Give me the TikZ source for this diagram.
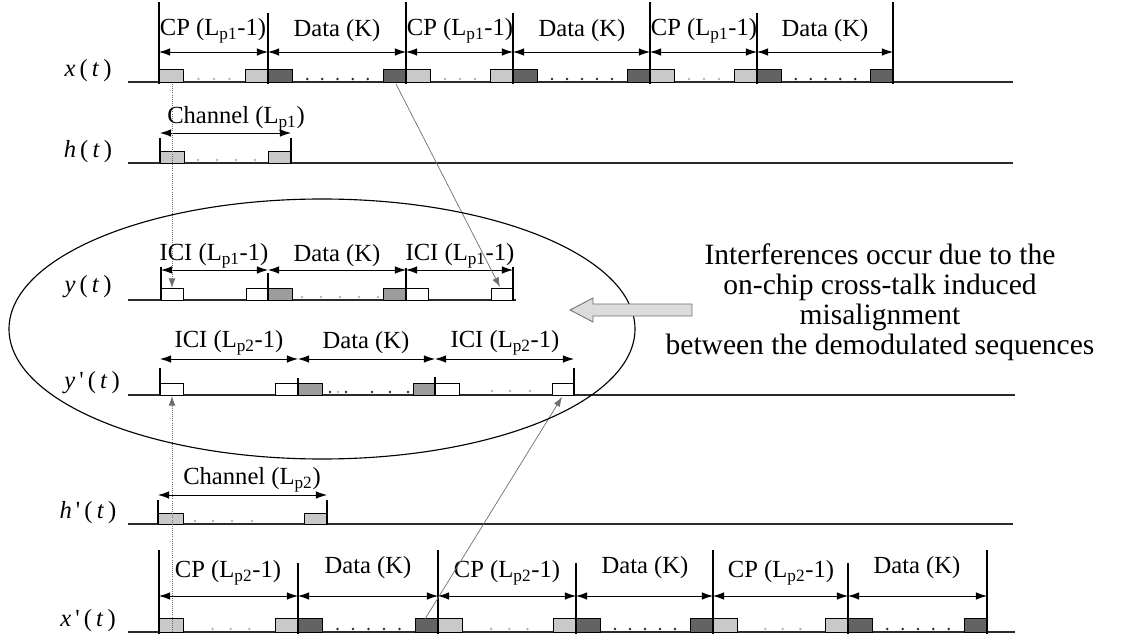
\documentclass[tikz,border=0pt]{standalone}
\usepackage{fontspec}
\setmainfont{Liberation Serif}
\usetikzlibrary{arrows.meta,positioning}
\definecolor{cpgray}{HTML}{C9C9C9}
\definecolor{datagray}{HTML}{636363}
\definecolor{ygray}{HTML}{9C9C9C}
\definecolor{dotgray}{HTML}{B4B4B4}
\definecolor{inkgray}{HTML}{2A2A2A}
\definecolor{linkgray}{HTML}{6E6E6E}
\definecolor{arrowfill}{HTML}{DCDCDC}
\newcommand{\Lp}[1]{L\textsubscript{p#1}}
\newcommand{\sig}[2]{\textit{#1}\,(\,\textit{#2}\,)}
\newcommand{\psig}[2]{\textit{#1}\,\textquotesingle\,(\,\textit{#2}\,)}

\begin{document}
\begin{tikzpicture}[x=0.25mm,y=-0.25mm,
  every node/.style={font=\fontsize{17.5}{19}\selectfont,inner sep=1pt},
  axis/.style={line width=0.9pt,inkgray},
  tick/.style={line width=0.9pt,black},
  span/.style={{Latex[length=2.8mm,width=1.9mm]}-{Latex[length=2.8mm,width=1.9mm]},line width=0.6pt},
  cpbox/.style={draw,line width=0.6pt,fill=cpgray},
  databox/.style={draw,line width=0.6pt,fill=datagray},
  ybox/.style={draw,line width=0.6pt,fill=ygray},
  openbox/.style={draw,line width=0.6pt,fill=white},
  link/.style={-{Latex[length=2.4mm,width=1.7mm]},line width=0.5pt,linkgray},
  dotlink/.style={link,densely dotted}
]
\useasboundingbox (0,0) rectangle (1125,641);

% x(t)
\node (xlab) at (88,71) {\sig{x}{t}};
\draw[axis] (128,82) -- (1013,82);
\foreach \s/\e in {159/268,406/513,650/757}{
  \draw[cpbox] (\s,69) rectangle ({\s+24},82);
  \draw[cpbox] ({\e-23},69) rectangle (\e,82);
  \foreach \k in {1,2,3} \fill[dotgray] ({\s+24+\k*(\e-\s-47)/4},79) circle (1.4);
}
\foreach \s/\e in {268/406,513/650,757/893}{
  \draw[databox] (\s,69) rectangle ({\s+24},82);
  \draw[databox] ({\e-23},69) rectangle (\e,82);
  \foreach \k in {1,...,5} \fill[inkgray] ({\s+24+\k*(\e-\s-47)/6},79) circle (1.4);
}
\foreach \b in {159,406,650,893} \draw[tick] (\b,2) -- (\b,84);
\foreach \b in {268,513,757} \draw[tick] (\b,13) -- (\b,84);
\foreach \s/\e in {159/268,268/406,406/513,513/650,650/757,757/893}
  \draw[span] (\s,52) -- (\e,52);
\node (xcp1) at (213,31) {CP (\Lp{1}-1)};
\node (xd1) at (337,31) {Data (K)};
\node (xcp2) at (460,31) {CP (\Lp{1}-1)};
\node (xd2) at (582,31) {Data (K)};
\node (xcp3) at (704,31) {CP (\Lp{1}-1)};
\node (xd3) at (825,31) {Data (K)};

% h(t)
\node (hlab) at (88,152) {\sig{h}{t}};
\draw[axis] (128,163) -- (1013,163);
\draw[cpbox] (160,151) rectangle (184,163);
\draw[cpbox] (268,151) rectangle (291,163);
\foreach \x in {198,217,236,255} \fill[dotgray] (\x,160) circle (1.4);
\draw[tick] (160,138) -- (160,163);
\draw[tick] (291,138) -- (291,163);
\draw[span] (160,133) -- (291,133);
\node (hch) at (236,119) {Channel (\Lp{1})};

% y(t)
\node (ylab) at (88,287) {\sig{y}{t}};
\draw[axis] (128,300) -- (516,300);
\draw[openbox] (161,288) rectangle (183,300);
\draw[openbox] (246,288) rectangle (268,300);
\draw[ybox] (268,288) rectangle (292,300);
\foreach \x in {302,321,340,359,378} \fill[dotgray] (\x,297) circle (1.4);
\draw[ybox] (383,288) rectangle (406,300);
\draw[openbox] (406,288) rectangle (428,300);
\draw[openbox] (491,288) rectangle (513,300);
\draw[tick] (161,267) -- (161,300);
\draw[tick] (268,273) -- (268,300);
\draw[tick] (406,268) -- (406,300);
\draw[tick] (513,267) -- (513,300);
\draw[span] (161,270) -- (268,270);
\draw[span] (268,270) -- (406,270);
\draw[span] (406,270) -- (513,270);
\node (yici1) at (214,256) {ICI (\Lp{1}-1)};
\node (yd) at (337,256) {Data (K)};
\node (yici2) at (460,256) {ICI (\Lp{1}-1)};

% y'(t)
\node (yplab) at (92,383) {\psig{y}{t}};
\draw[axis] (128,395) -- (1015,395);
\draw[openbox] (160,383) rectangle (183,395);
\draw[openbox] (275,383) rectangle (298,395);
\draw[ybox] (298,383) rectangle (322,395);
\foreach \x in {330,346,372,390,408} \fill[inkgray] (\x,392) circle (1.3);
\fill[dotgray] (338,392) circle (1.3);
\draw[ybox] (413,383) rectangle (435,395);
\draw[openbox] (435,383) rectangle (459,395);
\foreach \x in {492,510,530} \fill[dotgray] (\x,391) circle (1.4);
\draw[openbox] (552,383) rectangle (574,395);
\draw[tick] (160,368) -- (160,395);
\draw[tick] (298,378) -- (298,395);
\draw[tick] (435,377) -- (435,395);
\draw[tick] (574,368) -- (574,395);
\draw[span] (160,359) -- (298,359);
\draw[span] (298,359) -- (435,359);
\draw[span] (435,359) -- (574,359);
\node (ypici1) at (229,343) {ICI (\Lp{2}-1)};
\node (ypd) at (366,343) {Data (K)};
\node (ypici2) at (505,343) {ICI (\Lp{2}-1)};

% h'(t)
\node (hplab) at (88,513) {\psig{h}{t}};
\draw[axis] (128,524) -- (1013,524);
\draw[cpbox] (158,513) rectangle (183,524);
\draw[cpbox] (304,513) rectangle (327,524);
\foreach \x in {195,213,232,252} \fill[dotgray] (\x,521) circle (1.4);
\draw[tick] (158,500) -- (158,524);
\draw[tick] (327,500) -- (327,524);
\draw[span] (158,495) -- (327,495);
\node (hpch) at (252,480) {Channel (\Lp{2})};

% x'(t)
\node (xplab) at (88,621) {\psig{x}{t}};
\draw[axis] (128,632) -- (1015,632);
\foreach \s/\e in {159/298,438/576,713/848}{
  \draw[cpbox] (\s,618) rectangle ({\s+24},632);
  \draw[cpbox] ({\e-23},618) rectangle (\e,632);
  \foreach \k in {1,2,3} \fill[dotgray] ({\s+24+(\k+0.6)*(\e-\s-47)/5},629) circle (1.4);
}
\foreach \s/\e in {298/438,576/713,848/987}{
  \draw[databox] (\s,618) rectangle ({\s+24},632);
  \draw[databox] ({\e-23},618) rectangle (\e,632);
  \foreach \k in {1,...,5} \fill[inkgray] ({\s+24+\k*(\e-\s-47)/6},629) circle (1.4);
}
\foreach \b in {159,438,713,987} \draw[tick] (\b,550) -- (\b,634);
\foreach \b in {298,576,848} \draw[tick] (\b,563) -- (\b,634);
\foreach \s/\e in {159/298,298/438,438/576,576/713,713/848,848/987}
  \draw[span] (\s,596) -- (\e,596);
\node (xpcp1) at (228,573) {CP (\Lp{2}-1)};
\node (xpd1) at (368,568) {Data (K)};
\node (xpcp2) at (507,573) {CP (\Lp{2}-1)};
\node (xpd2) at (645,568) {Data (K)};
\node (xpcp3) at (781,573) {CP (\Lp{2}-1)};
\node (xpd3) at (917,568) {Data (K)};

% links between the rows
\coordinate (xa) at (172,84);
\coordinate (ya) at (172,288);
\draw[dotlink] (xa) -- (ya);
\coordinate (xb) at (396,84);
\coordinate (yb) at (500,287);
\draw[link] (xb) -- (yb);
\coordinate (xpa) at (172,632);
\coordinate (ypa) at (172,396);
\draw[dotlink] (xpa) -- (ypa);
\coordinate (xpb) at (425,619);
\coordinate (ypb) at (562,397);
\draw[link] (xpb) -- (ypb);

% misalignment region and note
\draw[line width=0.8pt] (322,329) ellipse [x radius=313,y radius=130];
\draw[linkgray,fill=arrowfill,line width=0.6pt]
  (570,310) -- (593,298) -- (593,304) -- (692,304)
  -- (692,316) -- (593,316) -- (593,322) -- cycle;
\node[align=center,font=\fontsize{21}{21.3}\selectfont] (note) at (880,302)
{Interferences occur due to the\\on-chip cross-talk induced\\misalignment\\between the demodulated sequences};
\end{tikzpicture}
\end{document}
